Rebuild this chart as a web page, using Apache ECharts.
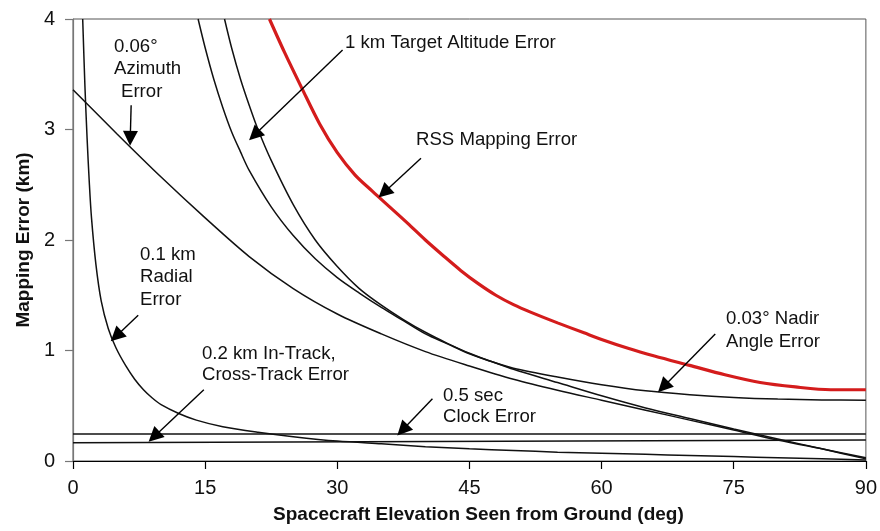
<!DOCTYPE html>
<html>
<head>
<meta charset="utf-8">
<script src="https://cdn.jsdelivr.net/npm/echarts@6/dist/echarts.min.js"></script>
<style>
  html, body { margin: 0; padding: 0; background: #fff; }
  #chart { width: 880px; height: 531px; }
</style>
</head>
<body>
<div id="chart"></div>
<script>
// ---------- data ----------
const xTicks = [0, 15, 30, 45, 60, 75, 90];
const yTicks = [0, 1, 2, 3, 4];

const radialX = [1.1, 1.35, 1.6, 1.85, 2.1, 2.6, 3.2, 4.0, 4.9, 6, 7, 8, 9, 10, 12, 14, 17, 21, 25, 30, 35, 40, 45, 50, 55, 60, 65, 70, 75, 80, 85, 90];
const radialY = [4.0, 3.4, 2.92, 2.52, 2.2, 1.78, 1.45, 1.2, 1.02, 0.86, 0.74, 0.645, 0.57, 0.51, 0.43, 0.37, 0.31, 0.26, 0.22, 0.18, 0.155, 0.13, 0.11, 0.095, 0.08, 0.07, 0.06, 0.05, 0.04, 0.03, 0.02, 0.01];

const azimuthX = [0, 5, 10, 15, 20, 25, 30, 35, 40, 45, 50, 55, 60, 65, 70, 75, 80, 85, 90];
const azimuthY = [3.36, 2.96, 2.57, 2.2, 1.85, 1.56, 1.33, 1.15, 0.99, 0.86, 0.74, 0.64, 0.55, 0.46, 0.37, 0.28, 0.19, 0.11, 0.03];

const altitudeX = [14.2, 15, 16, 17, 18, 19, 20, 22.5, 25, 27.5, 30, 32.5, 35, 37.5, 40, 42.5, 45, 47.5, 50, 55, 60, 65, 70, 75, 80, 85, 90];
const altitudeY = [4.0, 3.74, 3.45, 3.2, 2.98, 2.8, 2.63, 2.3, 2.04, 1.83, 1.66, 1.52, 1.39, 1.27, 1.15, 1.06, 0.97, 0.9, 0.83, 0.71, 0.59, 0.48, 0.385, 0.29, 0.2, 0.11, 0.02];

const nadirX = [17.2, 18, 19, 20, 21, 22.5, 25, 27.5, 30, 32.5, 35, 37.5, 40, 42.5, 45, 47.5, 50, 55, 60, 65, 70, 75, 80, 85, 90];
const nadirY = [4.0, 3.74, 3.46, 3.22, 3.0, 2.72, 2.32, 2.0, 1.76, 1.56, 1.41, 1.28, 1.165, 1.065, 0.975, 0.9, 0.84, 0.76, 0.69, 0.635, 0.6, 0.575, 0.56, 0.553, 0.55];

const rssX = [22.3, 24, 26, 28, 30, 32, 34, 36, 38, 40, 42, 44, 46, 48, 50, 52, 55, 58, 60, 63, 66, 70, 74, 78, 82, 86, 90];
const rssY = [4.0, 3.7, 3.37, 3.05, 2.79, 2.59, 2.44, 2.295, 2.15, 2.0, 1.86, 1.725, 1.605, 1.5, 1.415, 1.345, 1.25, 1.16, 1.1, 1.02, 0.95, 0.865, 0.78, 0.71, 0.67, 0.645, 0.645];

const clockX = [0, 90];
const clockY = [0.245, 0.245];

const trackX = [0, 90];
const trackY = [0.165, 0.19];

// annotation arrows: [tailX, tailY, tipX, tipY] in data units
const arrowAzimuth  = [6.6, 3.22, 6.5, 2.92];
const arrowAltitude = [30.6, 3.72, 20.6, 2.95];
const arrowRss      = [39.5, 2.74, 35.3, 2.43];
const arrowRadial   = [7.4, 1.32, 4.9, 1.13];
const arrowTrack    = [14.85, 0.645, 9.2, 0.22];
const arrowClock    = [40.8, 0.563, 37.4, 0.28];
const arrowNadir    = [72.9, 1.15, 67.0, 0.67];

// ---------- chart ----------
const FONT = '"Liberation Sans", Arial, Helvetica, sans-serif';
const zip = (xs, ys) => xs.map((x, i) => [x, ys[i]]);
const arrows = [arrowAzimuth, arrowAltitude, arrowRss, arrowRadial, arrowTrack, arrowClock, arrowNadir];

function lineSeries(name, xs, ys, color, width) {
  return {
    name, type: 'line', data: zip(xs, ys),
    showSymbol: false, symbol: 'none',
    smooth: 0.3,
    lineStyle: { color, width }, z: 3,
    animation: false, silent: true
  };
}

const chart = echarts.init(document.getElementById('chart'), null, { renderer: 'canvas' });

function txt(text, x, y) {
  return {
    type: 'text', x, y, silent: true,
    style: { text, fill: '#111', font: '18.6px ' + FONT, textAlign: 'left', textVerticalAlign: 'top' }
  };
}

const series = [
  lineSeries('0.1 km Radial Error', radialX, radialY, '#111', 1.5),
  lineSeries('0.06° Azimuth Error', azimuthX, azimuthY, '#111', 1.5),
  lineSeries('1 km Target Altitude Error', altitudeX, altitudeY, '#111', 1.5),
  lineSeries('0.03° Nadir Angle Error', nadirX, nadirY, '#111', 1.5),
  lineSeries('0.5 sec Clock Error', clockX, clockY, '#111', 1.5),
  lineSeries('0.2 km In-Track, Cross-Track Error', trackX, trackY, '#111', 1.5),
  lineSeries('RSS Mapping Error', rssX, rssY, '#d41c1c', 3.2)
];
series[4].markLine = {
  silent: true, animation: false,
  symbol: ['none', 'triangle'], symbolSize: 15,
  label: { show: false },
  lineStyle: { color: '#000', width: 1.4, type: 'solid' },
  data: arrows.map(a => [{ coord: [a[0], a[1]] }, { coord: [a[2], a[3]] }])
};

chart.setOption({
  backgroundColor: '#fff',
  animation: false,
  grid: { left: 73, right: 13, top: 19, bottom: 70, show: true, borderColor: '#555', borderWidth: 1 },
  xAxis: {
    type: 'value', min: 0, max: 90, interval: 15,
    name: 'Spacecraft Elevation Seen from Ground (deg)',
    nameLocation: 'middle', nameGap: 44,
    nameTextStyle: { fontFamily: FONT, fontWeight: 'bold', fontSize: 19, color: '#111', padding: [0, 0, 0, 18] },
    axisLine: { show: true, onZero: false, lineStyle: { color: '#000', width: 1.2 } },
    axisTick: { show: true, inside: false, length: 8, lineStyle: { color: '#000', width: 1.2 } },
    axisLabel: { fontFamily: FONT, fontSize: 20, color: '#111', margin: 17,
      formatter: v => xTicks.includes(v) ? String(v) : '' },
    splitLine: { show: false }
  },
  yAxis: {
    type: 'value', min: 0, max: 4, interval: 1,
    name: 'Mapping Error (km)',
    nameLocation: 'middle', nameGap: 40, nameRotate: 90,
    nameTextStyle: { fontFamily: FONT, fontWeight: 'bold', fontSize: 19, color: '#111' },
    axisLine: { show: true, onZero: false, lineStyle: { color: '#777', width: 1.2 } },
    axisTick: { show: true, inside: false, length: 8, lineStyle: { color: '#777', width: 1.2 } },
    axisLabel: { fontFamily: FONT, fontSize: 20, color: '#111', margin: 18,
      formatter: v => yTicks.includes(v) ? String(v) : '' },
    splitLine: { show: false }
  },
  series,
  graphic: [
    txt('0.06°', 114, 37),
    txt('Azimuth', 114, 59),
    txt('Error', 121, 82),
    txt('1 km Target Altitude Error', 345, 33),
    txt('RSS Mapping Error', 416, 130),
    txt('0.1 km', 140, 245),
    txt('Radial', 140, 267),
    txt('Error', 140, 290),
    txt('0.2 km In-Track,', 202, 344),
    txt('Cross-Track Error', 202, 365),
    txt('0.5 sec', 443, 386),
    txt('Clock Error', 443, 407),
    txt('0.03° Nadir', 726, 309),
    txt('Angle Error', 726, 332)
  ]
});
</script>
</body>
</html>
